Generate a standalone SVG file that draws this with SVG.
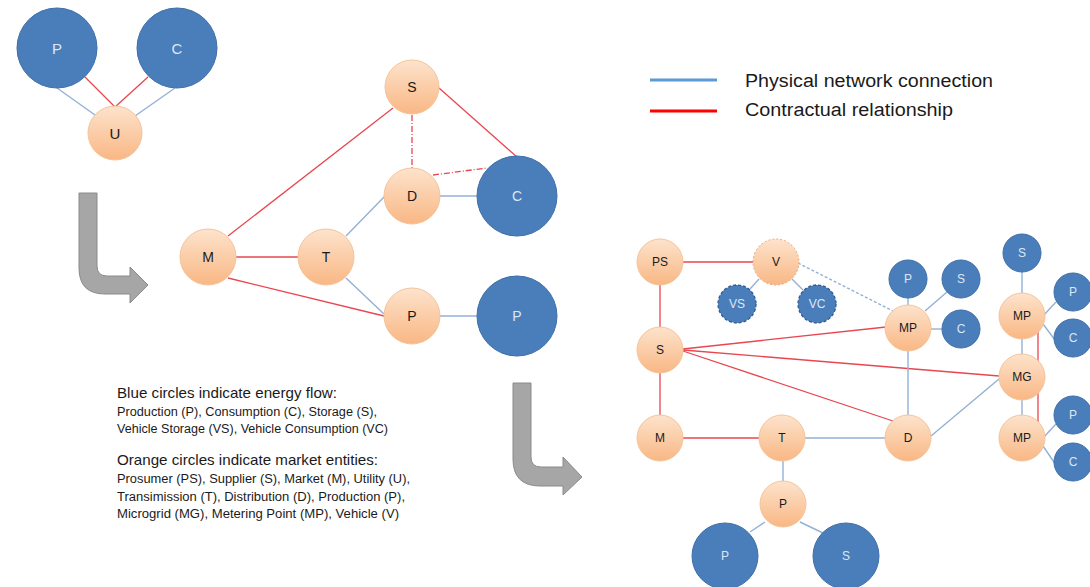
<svg xmlns="http://www.w3.org/2000/svg" width="1090" height="587" viewBox="0 0 1090 587">
<defs>
<linearGradient id="og" x1="0" y1="0" x2="0" y2="1">
<stop offset="0" stop-color="#fde3cc"/>
<stop offset="1" stop-color="#f9b784"/>
</linearGradient>
<style>
.o{fill:url(#og);stroke:#f4c49a;stroke-width:1}
.od{fill:url(#og);stroke:#e8a878;stroke-width:1;stroke-dasharray:2 2}
.b{fill:#4a7ebb;stroke:#3d6ea8;stroke-width:1}
.bd{fill:#4a7ebb;stroke:#2f5a8f;stroke-width:1.3;stroke-dasharray:3 2}
.lo{font-family:"Liberation Sans",Arial,sans-serif;fill:#1a1a1a;text-anchor:middle;dominant-baseline:central}
.lb{font-family:"Liberation Sans",Arial,sans-serif;fill:#dde7f4;text-anchor:middle;dominant-baseline:central}
.pb{stroke:#93b1d6;stroke-width:1.4;fill:none}
.pr{stroke:#e9464f;stroke-width:1.3;fill:none}
.t{font-family:"Liberation Sans",Arial,sans-serif;fill:#1a1a1a}
.arr{fill:#a6a6a6;stroke:#8a8a8a;stroke-width:1}
</style>
</defs>
<rect width="1090" height="587" fill="#ffffff"/>

<g id="connectors">
<line class="pb" x1="57" y1="88" x2="95" y2="115"/>
<line class="pr" x1="85" y1="77" x2="115" y2="107"/>
<line class="pr" x1="148" y1="77" x2="115" y2="107"/>
<line class="pb" x1="175" y1="88" x2="135" y2="116"/>
<line class="pr" x1="393" y1="108" x2="228" y2="236"/>
<line class="pr" x1="439" y1="88" x2="517" y2="157"/>
<line class="pr" x1="412" y1="115" x2="412" y2="168" stroke-dasharray="6 2 1 2"/>
<line class="pr" x1="433" y1="175" x2="487" y2="168" stroke-dasharray="6 2 1 2"/>
<line class="pb" x1="440" y1="196" x2="477" y2="196"/>
<line class="pb" x1="346" y1="236" x2="385" y2="196"/>
<line class="pr" x1="236" y1="257" x2="298" y2="257"/>
<line class="pr" x1="228" y1="278" x2="384" y2="316"/>
<line class="pb" x1="346" y1="278" x2="384" y2="314"/>
<line class="pb" x1="440" y1="316" x2="477" y2="316"/>
<line class="pr" x1="683" y1="262" x2="753" y2="262"/>
<line class="pr" x1="660" y1="285" x2="660" y2="327"/>
<line class="pr" x1="660" y1="373" x2="660" y2="415"/>
<line class="pb" x1="750" y1="289" x2="759" y2="279"/>
<line class="pb" x1="792" y1="279" x2="803" y2="290"/>
<line class="pb" x1="798" y1="263" x2="893" y2="311" stroke-dasharray="3 2"/>
<line class="pr" x1="683" y1="349" x2="886" y2="327"/>
<line class="pr" x1="683" y1="350" x2="999" y2="376"/>
<line class="pr" x1="683" y1="351" x2="893" y2="421"/>
<line class="pb" x1="908" y1="298" x2="908" y2="305"/>
<line class="pb" x1="925" y1="311" x2="947" y2="292"/>
<line class="pb" x1="931" y1="329" x2="942" y2="329"/>
<line class="pb" x1="908" y1="351" x2="908" y2="415"/>
<line class="pr" x1="683" y1="438" x2="759" y2="438"/>
<line class="pb" x1="805" y1="438" x2="885" y2="438"/>
<line class="pb" x1="931" y1="436" x2="999" y2="379"/>
<line class="pb" x1="783" y1="461" x2="783" y2="481"/>
<line class="pb" x1="765" y1="522" x2="750" y2="532"/>
<line class="pb" x1="800" y1="522" x2="823" y2="533"/>
<line class="pb" x1="1022" y1="272" x2="1022" y2="293"/>
<line class="pb" x1="1022" y1="339" x2="1022" y2="354"/>
<line class="pb" x1="1022" y1="400" x2="1022" y2="415"/>
<line class="pb" x1="1043" y1="316" x2="1056" y2="302"/>
<line class="pb" x1="1043" y1="324" x2="1058" y2="344"/>
<line class="pb" x1="1043" y1="438" x2="1056" y2="424"/>
<line class="pb" x1="1043" y1="446" x2="1058" y2="468"/>
<line class="pr" x1="1038" y1="332" x2="1038" y2="422"/>
</g>

<g id="tl-P"><circle class="b" cx="57" cy="48" r="40"/><text class="lb" x="57" y="48" font-size="15">P</text></g>
<g id="tl-C"><circle class="b" cx="177" cy="48" r="40"/><text class="lb" x="177" y="48" font-size="15">C</text></g>
<g id="tl-U"><circle class="o" cx="115" cy="133" r="27"/><text class="lo" x="115" y="133" font-size="15">U</text></g>

<g id="m-S"><circle class="o" cx="412" cy="87" r="27"/><text class="lo" x="412" y="87" font-size="14">S</text></g>
<g id="m-D"><circle class="o" cx="412" cy="196" r="28"/><text class="lo" x="412" y="196" font-size="14">D</text></g>
<g id="m-C"><circle class="b" cx="517" cy="196" r="40"/><text class="lb" x="517" y="196" font-size="14">C</text></g>
<g id="m-M"><circle class="o" cx="208" cy="257" r="28"/><text class="lo" x="208" y="257" font-size="14">M</text></g>
<g id="m-T"><circle class="o" cx="326" cy="257" r="28"/><text class="lo" x="326" y="257" font-size="14">T</text></g>
<g id="m-P"><circle class="o" cx="412" cy="316" r="28"/><text class="lo" x="412" y="316" font-size="14">P</text></g>
<g id="m-Pb"><circle class="b" cx="517" cy="316" r="40"/><text class="lb" x="517" y="316" font-size="14">P</text></g>

<g id="legend">
<line x1="650" y1="80" x2="717" y2="80" stroke="#5b9bd5" stroke-width="3"/>
<line x1="650" y1="111" x2="717" y2="111" stroke="#ff0000" stroke-width="3"/>
<text class="t" x="745" y="87" font-size="18" textLength="248" lengthAdjust="spacingAndGlyphs">Physical network connection</text>
<text class="t" x="745" y="116" font-size="18" textLength="208" lengthAdjust="spacingAndGlyphs">Contractual relationship</text>
</g>

<path id="arrow1" class="arr" d="M79,193 L97,193 L97,266 Q97,276 107,276 L130,276 L130,267 L148,285 L130,303 L130,294 L105,294 Q79,294 79,268 Z"/>
<path id="arrow2" class="arr" d="M513,383 L531,383 L531,457 Q531,467 541,467 L563,467 L563,457 L582,477 L563,495 L563,486 L540,486 Q513,486 513,459 Z"/>

<g id="description">
<text class="t" x="117" y="398" font-size="15" textLength="220" lengthAdjust="spacingAndGlyphs">Blue circles indicate energy flow:</text>
<text class="t" x="117" y="416" font-size="12.5" textLength="260" lengthAdjust="spacingAndGlyphs">Production (P), Consumption (C), Storage (S),</text>
<text class="t" x="117" y="433" font-size="12.5" textLength="271" lengthAdjust="spacingAndGlyphs">Vehicle Storage (VS), Vehicle Consumption (VC)</text>
<text class="t" x="117" y="465" font-size="15" textLength="261" lengthAdjust="spacingAndGlyphs">Orange circles indicate market entities:</text>
<text class="t" x="117" y="483" font-size="12.5" textLength="293" lengthAdjust="spacingAndGlyphs">Prosumer (PS), Supplier (S), Market (M), Utility (U),</text>
<text class="t" x="117" y="501" font-size="12.5" textLength="288" lengthAdjust="spacingAndGlyphs">Transimission (T), Distribution (D), Production (P),</text>
<text class="t" x="117" y="518" font-size="12.5" textLength="282" lengthAdjust="spacingAndGlyphs">Microgrid (MG), Metering Point (MP), Vehicle (V)</text>
</g>

<g id="br-PS"><circle class="o" cx="660" cy="262" r="23"/><text class="lo" x="660" y="262" font-size="12">PS</text></g>
<g id="br-V"><circle class="od" cx="776" cy="262" r="23"/><text class="lo" x="776" y="262" font-size="12">V</text></g>
<g id="br-VS"><circle class="bd" cx="737" cy="304" r="19"/><text class="lb" x="737" y="304" font-size="12">VS</text></g>
<g id="br-VC"><circle class="bd" cx="817" cy="304" r="19"/><text class="lb" x="817" y="304" font-size="12">VC</text></g>
<g id="br-S"><circle class="o" cx="660" cy="350" r="23"/><text class="lo" x="660" y="350" font-size="12">S</text></g>
<g id="br-M"><circle class="o" cx="660" cy="438" r="23"/><text class="lo" x="660" y="438" font-size="12">M</text></g>
<g id="br-T"><circle class="o" cx="782" cy="438" r="23"/><text class="lo" x="782" y="438" font-size="12">T</text></g>
<g id="br-D"><circle class="o" cx="908" cy="438" r="23"/><text class="lo" x="908" y="438" font-size="12">D</text></g>
<g id="br-P"><circle class="o" cx="783" cy="504" r="23"/><text class="lo" x="783" y="504" font-size="12">P</text></g>
<g id="br-Pb"><circle class="b" cx="725" cy="556" r="33"/><text class="lb" x="725" y="556" font-size="12">P</text></g>
<g id="br-Sb"><circle class="b" cx="846" cy="556" r="33"/><text class="lb" x="846" y="556" font-size="12">S</text></g>
<g id="br-MP1"><circle class="o" cx="908" cy="328" r="23"/><text class="lo" x="908" y="328" font-size="12">MP</text></g>
<g id="br-P1"><circle class="b" cx="908" cy="279" r="19"/><text class="lb" x="908" y="279" font-size="12">P</text></g>
<g id="br-S1"><circle class="b" cx="961" cy="279" r="19"/><text class="lb" x="961" y="279" font-size="12">S</text></g>
<g id="br-C1"><circle class="b" cx="961" cy="329" r="19"/><text class="lb" x="961" y="329" font-size="12">C</text></g>
<g id="br-S2"><circle class="b" cx="1022" cy="253" r="19"/><text class="lb" x="1022" y="253" font-size="12">S</text></g>
<g id="br-MP2"><circle class="o" cx="1022" cy="316" r="23"/><text class="lo" x="1022" y="316" font-size="12">MP</text></g>
<g id="br-MG"><circle class="o" cx="1022" cy="377" r="23"/><text class="lo" x="1022" y="377" font-size="12">MG</text></g>
<g id="br-MP3"><circle class="o" cx="1022" cy="438" r="23"/><text class="lo" x="1022" y="438" font-size="12">MP</text></g>
<g id="br-P2"><circle class="b" cx="1073" cy="292" r="19"/><text class="lb" x="1073" y="292" font-size="12">P</text></g>
<g id="br-C2"><circle class="b" cx="1073" cy="338" r="19"/><text class="lb" x="1073" y="338" font-size="12">C</text></g>
<g id="br-P3"><circle class="b" cx="1073" cy="415" r="19"/><text class="lb" x="1073" y="415" font-size="12">P</text></g>
<g id="br-C3"><circle class="b" cx="1073" cy="462" r="19"/><text class="lb" x="1073" y="462" font-size="12">C</text></g>
</svg>
